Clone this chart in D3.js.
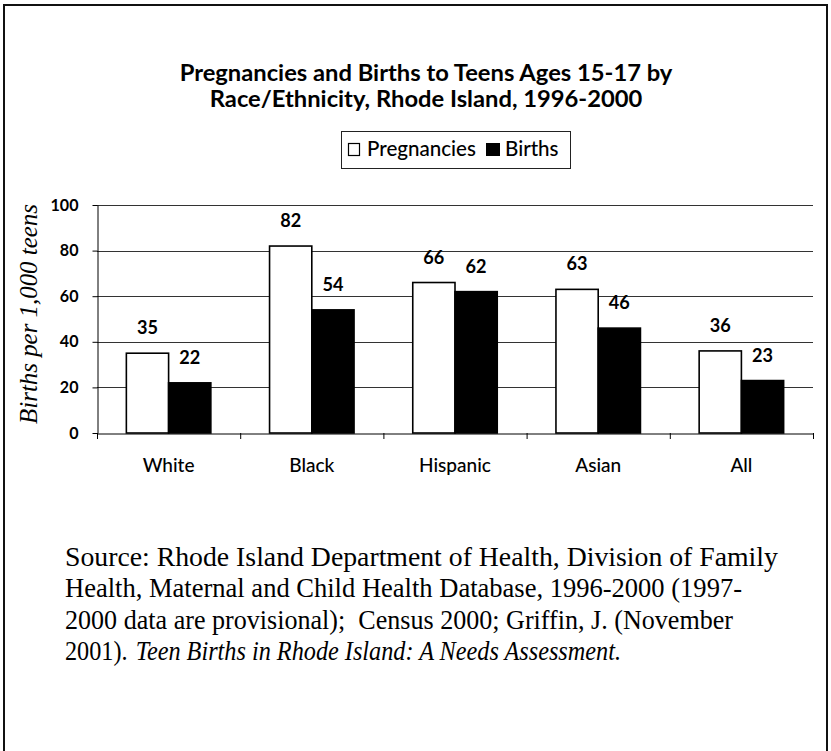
<!DOCTYPE html>
<html><head><meta charset="utf-8">
<script src="https://cdn.jsdelivr.net/npm/d3@7"></script>
<style>body{margin:0;background:#fff}svg{display:block}</style>
</head><body>
<script>
const categories = ["White","Black","Hispanic","Asian","All"];
const seriesNames = ["Pregnancies","Births"];
const pregnancies = [35,82,66,63,36];
const births = [22,54,62,46,23];
const yTicks = [0,20,40,60,80,100];
const titleLines = ["Pregnancies and Births to Teens Ages 15-17 by","Race/Ethnicity, Rhode Island, 1996-2000"];
const yLabel = "Births per 1,000 teens";
const sourceLines = [
 [["Source: Rhode Island Department of Health, Division of Family",false]],
 [["Health, Maternal and Child Health Database, 1996-2000 (1997-",false]],
 [["2000 data are provisional);  Census 2000; Griffin, J. (November",false]],
 [["2001).",false],["Teen Births in Rhode Island: A Needs Assessment.",true]]
];
const sourceLineWidths = [713, 677, 668, 556];

const W=831,H=751;
const sans="'Lato','Open Sans',sans-serif";
const serif="'Liberation Serif','DejaVu Serif',serif";
const svg=d3.select("body").append("svg").attr("width",W).attr("height",H);
svg.append("rect").attr("width",W).attr("height",H).attr("fill","#fff");
svg.append("rect").attr("x",4).attr("y",5).attr("width",823).attr("height",H+20)
  .attr("fill","none").attr("stroke","#111").attr("stroke-width",2);

function fit(sel,target){const l=sel.node().getComputedTextLength();const fs=parseFloat(sel.attr("font-size"));sel.attr("font-size",fs*target/l);return fs*target/l;}
function measure(txt,attrs,target){const t=svg.append("text").attr("font-family",sans).attr("font-size",20);Object.entries(attrs).forEach(([k,v])=>t.attr(k,v));t.text(txt);const f=fit(t,target);t.remove();return f;}

// title
const t1=svg.append("text").attr("x",426).attr("y",81).attr("text-anchor","middle")
 .attr("font-family",sans).attr("font-weight",700).attr("font-size",18).attr("fill","#000").text(titleLines[0]);
fit(t1,493);
svg.append("text").attr("x",426).attr("y",107).attr("text-anchor","middle")
 .attr("font-family",sans).attr("font-weight",700).attr("font-size",t1.attr("font-size")).attr("fill","#000").text(titleLines[1]);

const fsLegend=measure(seriesNames[0],{"font-weight":500},109);
const fsCat=measure("Hispanic",{"font-weight":500},72);
const fsTick=measure("100",{"font-weight":700},28);
const fsVal=measure("82",{"font-weight":700},21);

// legend
const lg=svg.append("g");
lg.append("rect").attr("x",341.5).attr("y",131.5).attr("width",229).attr("height",37).attr("fill","#fff").attr("stroke","#222").attr("stroke-width",1);
lg.append("rect").attr("x",348.5).attr("y",143.5).attr("width",11).attr("height",12).attr("fill","#fff").attr("stroke","#000").attr("stroke-width",1.2);
lg.append("text").attr("x",367).attr("y",156).attr("font-family",sans).attr("font-weight",500).attr("font-size",fsLegend).text(seriesNames[0]);
lg.append("rect").attr("x",486).attr("y",143).attr("width",14).attr("height",13).attr("fill","#000");
lg.append("text").attr("x",505).attr("y",156).attr("font-family",sans).attr("font-weight",500).attr("font-size",fsLegend).text(seriesNames[1]);

// scales
const x0=97,x1=813,yTop=205,yBot=433;
const x=d3.scaleBand().domain(categories).range([x0,x1]).paddingInner(0.41).paddingOuter(0.205);
const xs=d3.scaleBand().domain(seriesNames).range([0,x.bandwidth()]).padding(0);
const y=d3.scaleLinear().domain([0,100]).range([yBot,yTop]);

svg.append("g").selectAll("line").data(yTicks.filter(d=>d>0)).join("line")
 .attr("x1",x0).attr("x2",x1).attr("y1",d=>Math.round(y(d))+0.5).attr("y2",d=>Math.round(y(d))+0.5)
 .attr("stroke","#333").attr("stroke-width",1);

const ya=svg.append("g").attr("transform",`translate(${x0+0.5},0)`)
 .call(d3.axisLeft(y).tickValues(yTicks).tickSize(5).tickPadding(14).tickSizeOuter(0));
ya.select(".domain").attr("stroke","#000");
ya.selectAll(".tick line").attr("stroke","#000");
ya.selectAll("text").attr("font-family",sans).attr("font-weight",700).attr("font-size",fsTick).attr("fill","#000");

const xa=svg.append("g").attr("transform",`translate(0,${yBot+0.5})`)
 .call(d3.axisBottom(x).tickSize(0).tickPadding(25).tickSizeOuter(0));
xa.select(".domain").attr("stroke","#000");
xa.selectAll("text").attr("font-family",sans).attr("font-weight",500).attr("font-size",fsCat).attr("fill","#000");
const step=x.step();
svg.append("g").selectAll("line").data(d3.range(categories.length+1)).join("line")
 .attr("x1",i=>x0+i*step+0.5).attr("x2",i=>x0+i*step+0.5).attr("y1",yBot).attr("y2",yBot+6)
 .attr("stroke","#000");

const data=categories.map((c,i)=>({c,vals:[{s:seriesNames[0],v:pregnancies[i]},{s:seriesNames[1],v:births[i]}]}));
const g=svg.append("g").selectAll("g").data(data).join("g").attr("transform",d=>`translate(${x(d.c)},0)`);
g.selectAll("rect").data(d=>d.vals).join("rect")
 .attr("x",d=>xs(d.s)).attr("y",d=>y(d.v)).attr("width",xs.bandwidth()).attr("height",d=>yBot-y(d.v))
 .attr("fill",d=>d.s===seriesNames[0]?"#fff":"#000").attr("stroke","#000").attr("stroke-width",1.6);
g.selectAll("text").data(d=>d.vals).join("text")
 .attr("x",d=>xs(d.s)+xs.bandwidth()/2).attr("y",d=>y(d.v)-19).attr("text-anchor","middle")
 .attr("font-family",sans).attr("font-weight",700).attr("font-size",fsVal).attr("fill","#000").text(d=>d.v);

const yl=svg.append("text").attr("transform",`translate(37,${(yTop+yBot)/2-5}) rotate(-90)`).attr("text-anchor","middle")
 .attr("font-family",serif).attr("font-style","italic").attr("font-size",20).attr("fill","#000").text(yLabel);
fit(yl,220);

// source note: each line scaled to the reference line width; runs placed separately with a word gap
let fsz=null;
const gap=8;
sourceLines.forEach((parts,i)=>{
  const by=566+i*31.3;
  if(i===0){
    const t=svg.append("text").attr("x",65).attr("y",by).attr("font-family",serif).attr("font-size",22).attr("fill","#000").text(parts[0][0]);
    fsz=fit(t,713);
    return;
  }
  const runs=parts.map(p=>{
    const t=svg.append("text").attr("y",by).attr("font-family",serif).attr("font-size",fsz).attr("fill","#000")
      .attr("font-style",p[1]?"italic":"normal").attr("xml:space","preserve").text(p[0]);
    return {t,w:t.node().getComputedTextLength()};
  });
  const avail=sourceLineWidths[i]-gap*(runs.length-1);
  const total=d3.sum(runs,r=>r.w), k=avail/total;
  let cx=65;
  runs.forEach(r=>{
    const tw=r.w*k;
    r.t.attr("x",cx).attr("textLength",tw).attr("lengthAdjust","spacingAndGlyphs");
    cx+=tw+gap;
  });
});
</script>
</body></html>
